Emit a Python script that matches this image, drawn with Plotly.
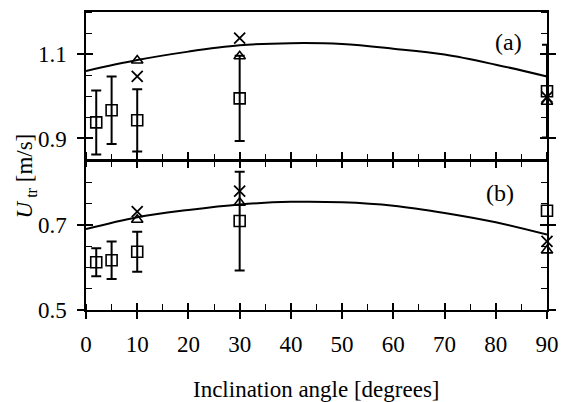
import plotly.graph_objects as go

# ---------------- data ----------------
sq_angles = [2, 5, 10, 30, 90]
top_sq = [0.938, 0.967, 0.943, 0.995, 1.012]
top_sq_err = [0.076, 0.080, 0.074, 0.101, 0.110]

mark_angles = [10, 30, 90]
top_cross = [1.047, 1.138, 0.998]
top_tri = [1.085, 1.095, 0.987]

bot_sq_angles = [2, 5, 10, 30]
bot_sq = [0.612, 0.617, 0.637, 0.709]
bot_sq_err = [0.033, 0.044, 0.047, 0.116]
bot_sq90_angle = [90]
bot_sq90 = [0.733]
bot_cross = [0.731, 0.779, 0.661]
bot_tri = [0.712, 0.752, 0.640]

curve_angles = [0, 10, 20, 30, 40, 50, 60, 70, 80, 90]
top_curve = [1.060, 1.086, 1.106, 1.121, 1.126, 1.124, 1.113, 1.099, 1.075, 1.047]
bot_curve = [0.690, 0.718, 0.735, 0.748, 0.754, 0.753, 0.745, 0.728, 0.706, 0.677]

FONT = "Liberation Serif"
BLACK = "black"
FS = 23

fig = go.Figure()

def sq_trace(x, y, err, xa, ya):
    kw = {}
    if err is not None:
        kw["error_y"] = dict(type="data", array=err, visible=True, color=BLACK, thickness=2, width=5)
    return go.Scatter(x=x, y=y, mode="markers", xaxis=xa, yaxis=ya, cliponaxis=False,
                      marker=dict(symbol="square-open", size=11, color=BLACK, line=dict(width=1.6, color=BLACK)),
                      showlegend=False, **kw)

def tri_trace(x, y, xa, ya):
    return go.Scatter(x=x, y=y, mode="markers", xaxis=xa, yaxis=ya, cliponaxis=False,
                      marker=dict(symbol="triangle-up-open", size=10, color=BLACK, line=dict(width=1.6, color=BLACK)),
                      showlegend=False)

def x_trace(x, y, xa, ya):
    return go.Scatter(x=x, y=y, mode="markers", xaxis=xa, yaxis=ya, cliponaxis=False,
                      marker=dict(symbol="x-thin-open", size=11, color=BLACK, line=dict(width=1.8, color=BLACK)),
                      showlegend=False)

# bottom panel (x, y)
fig.add_trace(go.Scatter(x=curve_angles, y=bot_curve, mode="lines", xaxis="x", yaxis="y",
                         line=dict(color=BLACK, width=2, shape="spline"), showlegend=False))
fig.add_trace(sq_trace(bot_sq_angles, bot_sq, bot_sq_err, "x", "y"))
fig.add_trace(sq_trace(bot_sq90_angle, bot_sq90, None, "x", "y"))
fig.add_trace(tri_trace(mark_angles, bot_tri, "x", "y"))
fig.add_trace(x_trace(mark_angles, bot_cross, "x", "y"))

# top panel (x2, y2)
fig.add_trace(go.Scatter(x=curve_angles, y=top_curve, mode="lines", xaxis="x2", yaxis="y2",
                         line=dict(color=BLACK, width=2, shape="spline"), showlegend=False))
fig.add_trace(sq_trace(sq_angles, top_sq, top_sq_err, "x2", "y2"))
fig.add_trace(tri_trace(mark_angles, top_tri, "x2", "y2"))
fig.add_trace(x_trace(mark_angles, top_cross, "x2", "y2"))

# dummy traces so overlay axes render (inward halves of crossing major ticks)
fig.add_trace(go.Scatter(x=[None], y=[None], xaxis="x3", yaxis="y", showlegend=False, hoverinfo="skip"))
fig.add_trace(go.Scatter(x=[None], y=[None], xaxis="x", yaxis="y3", showlegend=False, hoverinfo="skip"))
fig.add_trace(go.Scatter(x=[None], y=[None], xaxis="x2", yaxis="y4", showlegend=False, hoverinfo="skip"))

tickfont = dict(family=FONT, size=FS, color=BLACK)
common_x = dict(range=[0, 90], showgrid=False, zeroline=False, linecolor=BLACK, linewidth=1.5,
                tickcolor=BLACK, tickwidth=1.5, tick0=0, dtick=10)
common_y = dict(showgrid=False, zeroline=False, linecolor=BLACK, linewidth=1.5,
                tickcolor=BLACK, tickwidth=1.5, dtick=0.2)
minor_x = dict(ticks="inside", ticklen=6, dtick=5, tick0=0, tickcolor=BLACK, tickwidth=1.2)

TOP_DOM = [0.505, 1]

fig.update_layout(
    width=569, height=402,
    margin=dict(l=86, r=11, t=10, b=92),
    paper_bgcolor="white", plot_bgcolor="rgba(0,0,0,0)",
    font=dict(family=FONT, size=FS, color=BLACK),
    xaxis=dict(**common_x, anchor="y", showline=True, mirror="ticks", ticks="outside", ticklen=7,
               tickfont=tickfont, ticklabelstandoff=6, minor=minor_x),
    xaxis2=dict(**common_x, anchor="y2", showline=True, mirror=True, ticks="inside", ticklen=7,
                showticklabels=False, minor=minor_x),
    xaxis3=dict(**common_x, overlaying="x", anchor="y", showline=False, mirror="ticks", ticks="inside",
                ticklen=7, showticklabels=False),
    yaxis=dict(**common_y, domain=[0, 0.5], range=[0.5, 0.85], tick0=0.5, anchor="x",
               showline=True, mirror="ticks", ticks="outside", ticklen=7, tickfont=tickfont,
               ticklabelstandoff=6, tickformat=".1f",
               minor=dict(ticks="inside", ticklen=6, dtick=0.05, tick0=0.5, tickcolor=BLACK, tickwidth=1.2)),
    yaxis2=dict(**common_y, domain=TOP_DOM, range=[0.85, 1.2], tick0=0.9, anchor="x2",
                showline=True, mirror="ticks", ticks="outside", ticklen=7, tickfont=tickfont,
                ticklabelstandoff=6, tickformat=".1f",
                minor=dict(ticks="inside", ticklen=6, dtick=0.05, tick0=0.9, tickcolor=BLACK, tickwidth=1.2)),
    yaxis3=dict(**common_y, overlaying="y", range=[0.5, 0.85], tick0=0.5, anchor="x", showline=False,
                mirror="ticks", ticks="inside", ticklen=7, showticklabels=False),
    yaxis4=dict(**common_y, overlaying="y2", range=[0.85, 1.2], tick0=0.9, anchor="x2", showline=False,
                mirror="ticks", ticks="inside", ticklen=7, showticklabels=False),
    annotations=[
        dict(text="(a)", x=82.5, y=1.130, xref="x2", yref="y2", showarrow=False,
             xanchor="center", yanchor="middle", font=dict(family=FONT, size=24, color=BLACK)),
        dict(text="(b)", x=80.9, y=0.774, xref="x", yref="y", showarrow=False,
             xanchor="center", yanchor="middle", font=dict(family=FONT, size=24, color=BLACK)),
        dict(text="Inclination angle [degrees]", x=0.5, y=-0.266, xref="paper", yref="paper",
             xanchor="center", yanchor="middle",
             showarrow=False, font=dict(family=FONT, size=FS, color=BLACK)),
        dict(text="<i>U</i><sub> tr</sub> [m/s]", x=-0.131, y=0.45, xref="paper", yref="paper",
             xanchor="center", yanchor="middle",
             textangle=-90, showarrow=False, font=dict(family=FONT, size=FS, color=BLACK)),
    ],
)

fig.write_html("out.html")
